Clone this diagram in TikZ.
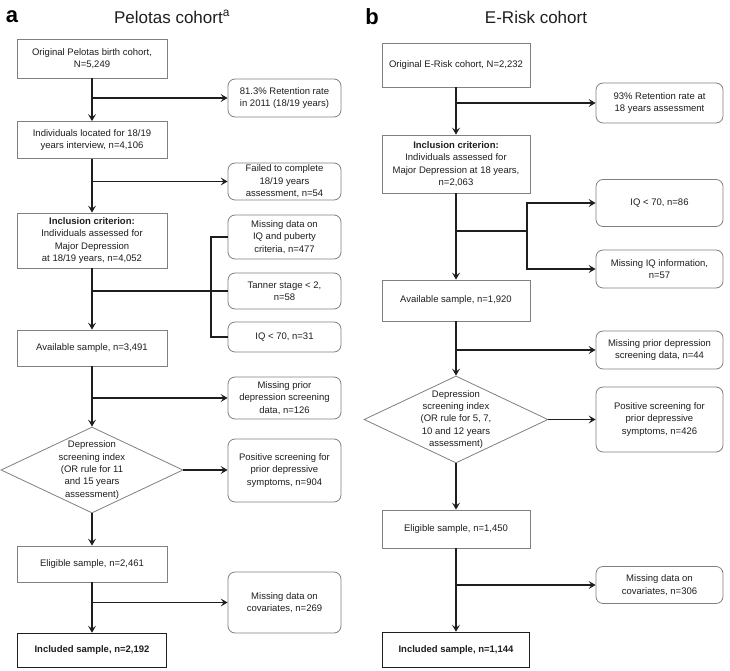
\documentclass[tikz,border=0pt]{standalone}
\usepackage{fontspec}
\setmainfont{Liberation Sans}
\usetikzlibrary{shapes.geometric,arrows.meta}
\definecolor{boxgray}{HTML}{808080}
\definecolor{ink}{HTML}{1E1E1E}
\tikzset{
  every node/.style={font=\fontsize{9.5}{12.4}\selectfont, text=ink},
  mainbox/.style={draw=boxgray, line width=0.8pt, rectangle, inner sep=0pt, align=center, minimum width=#1},
  mainbox/.default=150pt,
  sidebox/.style={draw=boxgray, line width=0.8pt, rectangle, rounded corners=7pt, inner sep=0pt, align=center, minimum width=#1},
  sidebox/.default=113pt,
  finalbox/.style={draw=ink, line width=1.6pt, rectangle, inner sep=0pt, align=center, minimum width=#1},
  decision/.style={draw=boxgray, line width=0.8pt, diamond, inner sep=0pt},
  ln/.style={draw=ink, line width=1.6pt},
  arr/.style={ln, -{Stealth[length=7pt,width=8pt,inset=3pt]}},
  paneltag/.style={font=\fontsize{22}{24}\bfseries, text=black},
  paneltitle/.style={font=\fontsize{17}{19}\selectfont, text=ink}
}
\begin{document}
\begin{tikzpicture}[x=1pt,y=-1pt]
\useasboundingbox[fill=white] (0,0) rectangle (730,671);

% ---------- panel a ----------
\node[paneltag] (taga) at (12,17) {a};
\node[paneltitle] (titlea) at (172,17) {Pelotas cohort\textsuperscript{a}};

\node[mainbox, minimum height=39pt] (A1) at (92,58.5) {Original Pelotas birth cohort,\\N=5,249};
\node[sidebox, minimum height=38pt] (R1) at (284.5,98) {81.3\% Retention rate\\in 2011 (18/19 years)};
\node[mainbox, minimum height=37pt] (A2) at (92,140) {Individuals located for 18/19\\years interview, n=4,106};
\node[sidebox, minimum height=37pt] (R2) at (284.5,181.5) {Failed to complete\\18/19 years\\assessment, n=54};
\node[mainbox, minimum height=55pt] (A3) at (92,240.5) {\textbf{Inclusion criterion:}\\Individuals assessed for\\Major Depression\\at 18/19 years, n=4,052};
\node[sidebox, minimum height=44pt] (M1) at (284.5,237) {Missing data on\\IQ and puberty\\criteria, n=477};
\node[sidebox, minimum height=36pt] (M2) at (284.5,291) {Tanner stage < 2,\\n=58};
\node[sidebox, minimum height=30pt] (M3) at (284.5,337) {IQ < 70, n=31};
\node[mainbox, minimum height=36pt] (A4) at (92,348) {Available sample, n=3,491};
\node[sidebox, minimum height=42pt] (R3) at (284.5,398) {Missing prior\\depression screening\\data, n=126};
\node[decision, minimum width=182pt, minimum height=86pt] (D1) at (92,470) {};
\node[align=center, inner sep=0pt] (D1t) at (D1.center) {Depression\\screening index\\(OR rule for 11\\and 15 years\\assessment)};
\node[sidebox, minimum height=63pt] (P1) at (284.5,470.5) {Positive screening for\\prior depressive\\symptoms, n=904};
\node[mainbox, minimum height=36pt] (A5) at (92,564) {Eligible sample, n=2,461};
\node[sidebox, minimum height=61pt] (C1) at (284.5,602.5) {Missing data on\\covariates, n=269};
\node[finalbox, minimum width=149pt, minimum height=34pt] (A6) at (92,650.5) {\textbf{Included sample, n=2,192}};

\draw[arr] (A1.south) -- (A2.north);
\draw[arr] (A1.south |- R1.west) -- (R1.west);
\draw[arr] (A2.south) -- (A3.north);
\draw[arr] (A2.south |- R2.west) -- (R2.west);
\draw[arr] (A3.south) -- (A4.north);
\draw[ln] (A3.south |- M2.west) -- (M2.west);
\coordinate (brk) at (211,291);
\draw[ln] (M1.west) -| (brk) |- (M3.west);
\draw[arr] (A4.south) -- (D1.north);
\draw[arr] (A4.south |- R3.west) -- (R3.west);
\draw[arr] (D1.east) -- (D1.east -| P1.west);
\draw[arr] (D1.south) -- (A5.north);
\draw[arr] (A5.south) -- (A6.north);
\draw[arr] (A5.south |- C1.west) -- (C1.west);

% ---------- panel b ----------
\node[paneltag] (tagb) at (372,17) {b};
\node[paneltitle] (titleb) at (536,17) {E-Risk cohort};

\node[mainbox=148pt, minimum height=44pt] (B1) at (456,65) {Original E-Risk cohort, N=2,232};
\node[sidebox=127pt, minimum height=40pt] (S1) at (659.5,103) {93\% Retention rate at\\18 years assessment};
\node[mainbox=148pt, minimum height=58pt] (B2) at (456,164) {\textbf{Inclusion criterion:}\\Individuals assessed for\\Major Depression at 18 years,\\n=2,063};
\node[sidebox=127pt, minimum height=47pt] (S2) at (659.5,203) {IQ < 70, n=86};
\node[sidebox=127pt, minimum height=38pt] (S3) at (659.5,269) {Missing IQ information,\\n=57};
\node[mainbox=148pt, minimum height=41pt] (B3) at (456,300.5) {Available sample, n=1,920};
\node[sidebox=127pt, minimum height=38pt] (S4) at (659.5,350) {Missing prior depression\\screening data, n=44};
\node[decision, minimum width=184pt, minimum height=87pt] (D2) at (456,419.5) {};
\node[align=center, inner sep=0pt] (D2t) at (D2.center) {Depression\\screening index\\(OR rule for 5, 7,\\10 and 12 years\\assessment)};
\node[sidebox=127pt, minimum height=65pt] (S5) at (659.5,419.5) {Positive screening for\\prior depressive\\symptoms, n=426};
\node[mainbox=148pt, minimum height=38pt] (B4) at (456,529) {Eligible sample, n=1,450};
\node[sidebox=127pt, minimum height=37pt] (S6) at (659.5,585) {Missing data on\\covariates, n=306};
\node[finalbox=147pt, minimum height=35pt] (B5) at (456,650) {\textbf{Included sample, n=1,144}};

\draw[arr] (B1.south) -- (B2.north);
\draw[arr] (B1.south |- S1.west) -- (S1.west);
\draw[arr] (B2.south) -- (B3.north);
\coordinate (bb) at (527,231);
\draw[ln] (B2.south |- bb) -- (bb);
\draw[arr] (bb) |- (S2.west);
\draw[arr] (bb) |- (S3.west);
\draw[arr] (B3.south) -- (D2.north);
\draw[arr] (B3.south |- S4.west) -- (S4.west);
\draw[arr] (D2.east) -- (D2.east -| S5.west);
\draw[arr] (D2.south) -- (B4.north);
\draw[arr] (B4.south) -- (B5.north);
\draw[arr] (B4.south |- S6.west) -- (S6.west);
\end{tikzpicture}
\end{document}
